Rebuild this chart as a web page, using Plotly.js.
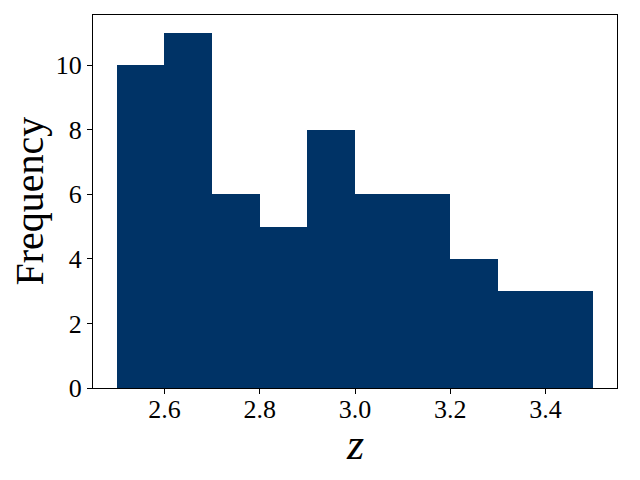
<!DOCTYPE html>
<html>
<head>
<meta charset="utf-8">
<script src="https://cdn.plot.ly/plotly-3.0.1.min.js"></script>
<style>html,body{margin:0;padding:0;background:#fff;}#chart{width:640px;height:480px;}</style>
</head>
<body>
<div id="chart"></div>
<script>
// Histogram bins (left edges) and counts
const binStarts = [2.5, 2.6, 2.7, 2.8, 2.9, 3.0, 3.1, 3.2, 3.3, 3.4];
const binWidth = 0.1;
const counts = [10, 11, 6, 5, 8, 6, 6, 4, 3, 3];
const xTickVals = [2.6, 2.8, 3.0, 3.2, 3.4];
const xTickText = ['2.6', '2.8', '3.0', '3.2', '3.4'];
const yTickVals = [0, 2, 4, 6, 8, 10];
const xLabel = '<i>z</i>';
const yLabel = 'Frequency';

const fontFam = 'Liberation Serif, Times New Roman, serif';

const trace = {
  type: 'bar',
  x: binStarts,
  y: counts,
  width: binStarts.map(() => binWidth),
  offset: 0,
  marker: {color: '#003366', line: {width: 0}},
  hoverinfo: 'skip'
};

const layout = {
  width: 640, height: 480,
  margin: {l: 93, r: 23, t: 15, b: 92, pad: 0},
  paper_bgcolor: '#fff', plot_bgcolor: '#fff',
  showlegend: false,
  bargap: 0,
  font: {family: fontFam, color: '#000', size: 26},
  xaxis: {
    range: [2.45, 3.55],
    tickvals: xTickVals, ticktext: xTickText,
    ticks: 'outside', ticklen: 5, tickwidth: 1, tickcolor: '#000',
    ticklabelstandoff: -7,
    showline: true, linecolor: '#000', linewidth: 1, mirror: true,
    showgrid: false, zeroline: false,
    tickfont: {family: fontFam, size: 26, color: '#000'}
  },
  yaxis: {
    range: [0, 11.55],
    tickvals: yTickVals,
    ticks: 'outside', ticklen: 5, tickwidth: 1, tickcolor: '#000',
    showline: true, linecolor: '#000', linewidth: 1, mirror: true,
    showgrid: false, zeroline: false,
    tickfont: {family: fontFam, size: 26, color: '#000'}
  },
  annotations: [
    {text: xLabel, xref: 'paper', yref: 'paper', x: 0.5, y: 0, xanchor: 'center', yanchor: 'middle',
     yshift: -56, showarrow: false, font: {family: fontFam, size: 44, color: '#000'}},
    {text: yLabel, xref: 'paper', yref: 'paper', x: 0, y: 0.5, xanchor: 'center', yanchor: 'middle',
     xshift: -64, textangle: -90, showarrow: false, font: {family: fontFam, size: 40, color: '#000'}}
  ]
};

Plotly.newPlot('chart', [trace], layout, {displayModeBar: false, staticPlot: true});
</script>
</body>
</html>
